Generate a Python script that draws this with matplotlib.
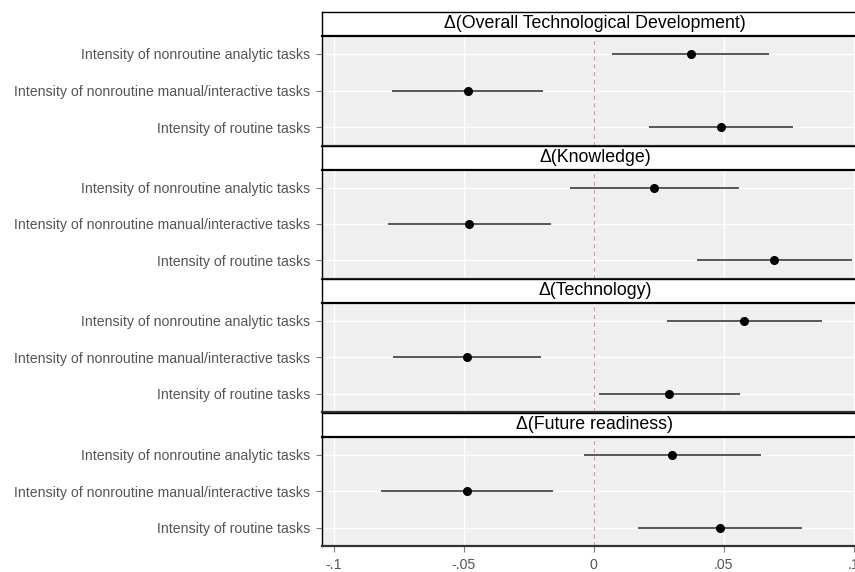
import matplotlib.pyplot as plt

plt.rcParams['font.family'] = ['Liberation Sans', 'DejaVu Sans']

# task categories (top to bottom within each panel)
tasks = ['Intensity of nonroutine analytic tasks',
         'Intensity of nonroutine manual/interactive tasks',
         'Intensity of routine tasks']

outcomes = ['Δ(Overall Technological Development)', 'Δ(Knowledge)',
            'Δ(Technology)', 'Δ(Future readiness)']

# point estimates and confidence bounds, one list per outcome
coef = [[0.0373, -0.0485, 0.0491],
        [0.0233, -0.0479, 0.0695],
        [0.0579, -0.0487, 0.0291],
        [0.0303, -0.0487, 0.0487]]
lower = [[0.0072, -0.0774, 0.0214],
         [-0.0091, -0.0793, 0.0397],
         [0.0283, -0.0773, 0.0019],
         [-0.0039, -0.0817, 0.0172]]
upper = [[0.0674, -0.0195, 0.0767],
         [0.0557, -0.0166, 0.0993],
         [0.0877, -0.0201, 0.0564],
         [0.0644, -0.0155, 0.0802]]

xticks = [-0.1, -0.05, 0, 0.05, 0.1]
xticklabels = ['-.1', '-.05', '0', '.05', '.1']

W_PX, H_PX = 855, 572
fig = plt.figure(figsize=(W_PX / 100, H_PX / 100), dpi=100)

# the panels run a little past the right edge of the picture, as in the original
left = 322 / W_PX
width = (868 - 322) / W_PX
strip_tops = [12, 146, 279, 413]
strip_h = 23.5
panel_bottoms = [145.5, 278.5, 412, 546]

ypos = [1, 2, 3]
for k, title in enumerate(outcomes):
    pt = strip_tops[k] + strip_h
    pb = panel_bottoms[k]
    ax = fig.add_axes([left, 1 - pb / H_PX, width, (pb - pt) / H_PX])
    ax.set_facecolor('#EFEFEF')
    ax.set_axisbelow(True)
    ax.grid(color='white', lw=1.0)
    ax.axvline(0, color='#C79AB5', lw=0.8, ls=(0, (4, 3)), zorder=1)
    ax.hlines(ypos, lower[k], upper[k], color='#2B2B2B', lw=1.1, zorder=2)
    ax.plot(coef[k], ypos, 'o', color='black', ms=5.5, zorder=3)
    ax.set_xlim(-0.1045, 0.1055)
    ax.set_ylim(3.5, 0.5)
    ax.set_yticks(ypos)
    ax.set_yticklabels(tasks, fontsize=10.2, color='#555555')
    ax.set_xticks(xticks)
    if k == len(outcomes) - 1:
        ax.set_xticklabels(xticklabels, fontsize=10.2, color='#555555')
    else:
        ax.set_xticklabels([])
        ax.tick_params(axis='x', length=0)
    ax.tick_params(axis='y', color='#7F7F7F', length=4.3, width=0.8, pad=4.2)
    ax.tick_params(axis='x', color='#7F7F7F', width=0.8, pad=4.5)
    if k == len(outcomes) - 1:
        ax.tick_params(axis='x', length=4.3)
    for s in ['top', 'right']:
        ax.spines[s].set_visible(False)
    ax.spines['left'].set_color('black')
    ax.spines['left'].set_linewidth(1.0)
    ax.spines['bottom'].set_color('#333333')
    ax.spines['bottom'].set_linewidth(1.6)

    # strip header
    sax = fig.add_axes([left, 1 - pt / H_PX, width, strip_h / H_PX])
    sax.set_facecolor('white')
    sax.set_xticks([])
    sax.set_yticks([])
    sax.spines['right'].set_visible(False)
    for s in ['top', 'left']:
        sax.spines[s].set_color('black')
        sax.spines[s].set_linewidth(1.0)
    sax.spines['bottom'].set_color('black')
    sax.spines['bottom'].set_linewidth(1.6)
    sax.text(0.5, 0.5, title, transform=sax.transAxes, ha='center',
             va='center', fontsize=12.8, color='black')

fig.savefig('out.png', dpi=100)
